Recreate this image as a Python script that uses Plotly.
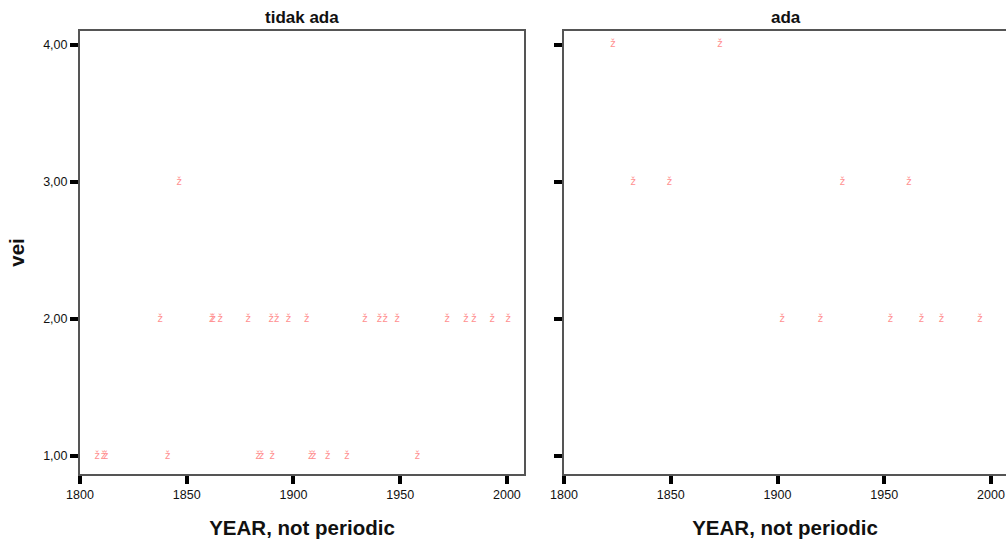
import plotly.graph_objects as go

# ---- data ----
panel_titles = ["tidak ada", "ada"]

tidak_year = [1808, 1811, 1812, 1841, 1883.5, 1885, 1890, 1908, 1909.5, 1916, 1925, 1958,
              1837.5, 1861.7, 1862.4, 1865.6, 1878.8, 1889.5, 1892.1, 1897.6, 1906.2,
              1933.5, 1940.2, 1942.9, 1948.6, 1972, 1980.8, 1984.5, 1993.1, 2000.6,
              1846.4]
tidak_vei = [1, 1, 1, 1, 1, 1, 1, 1, 1, 1, 1, 1,
             2, 2, 2, 2, 2, 2, 2, 2, 2,
             2, 2, 2, 2, 2, 2, 2, 2, 2,
             3]

ada_year = [1822.9, 1873, 1832.4, 1849.4, 1930.4, 1961.5,
            1902.2, 1920.1, 1952.9, 1967.4, 1976.7, 1994.8]
ada_vei = [4, 4, 3, 3, 3, 3,
           2, 2, 2, 2, 2, 2]

x_ticks = [1800, 1850, 1900, 1950, 2000]
y_ticks = [1, 2, 3, 4]
y_ticktext = ["1,00", "2,00", "3,00", "4,00"]

W, H = 1006, 544
fig = go.Figure()

glyph = "ž"
mcolor = "#ff9090"

fig.add_trace(go.Scatter(x=tidak_year, y=tidak_vei, mode="text", text=[glyph] * len(tidak_year),
                         textfont=dict(size=10, color=mcolor, family="DejaVu Sans"),
                         textposition="middle center", xaxis="x", yaxis="y",
                         showlegend=False, hoverinfo="x+y"))
fig.add_trace(go.Scatter(x=ada_year, y=ada_vei, mode="text", text=[glyph] * len(ada_year),
                         textfont=dict(size=10, color=mcolor, family="DejaVu Sans"),
                         textposition="middle center", xaxis="x2", yaxis="y2",
                         showlegend=False, hoverinfo="x+y"))

tickfont = dict(family="Liberation Sans, Arial", size=12.5, color="#111")
titlefont = dict(family="Liberation Sans, Arial", size=20.5, color="#111")

common_x = dict(range=[1800, 2008], tickvals=x_ticks, ticks="outside", ticklen=8, tickwidth=4,
                tickcolor="black", showline=True, linecolor="#555", linewidth=2, mirror=True,
                showgrid=False, zeroline=False, tickfont=tickfont, automargin=False,
                ticklabeloverflow="allow",
                title=dict(text="<b>YEAR, not periodic</b>", font=titlefont, standoff=20))
common_y = dict(range=[0.869, 4.102], tickvals=y_ticks, ticks="outside", ticklen=8, tickwidth=4,
                tickcolor="black", showline=True, linecolor="#555", linewidth=2,
                showgrid=False, zeroline=False, tickfont=tickfont, automargin=False)

l1, r1 = 80 / W, 524 / W
l2 = 564 / W
fig.update_layout(
    width=W, height=H,
    margin=dict(l=0, r=0, t=31, b=70),
    paper_bgcolor="white", plot_bgcolor="white",
    xaxis=dict(domain=[l1, r1], anchor="y", **common_x),
    xaxis2=dict(domain=[l2, 1.0], anchor="y2", **{**common_x, "range": [1800, 1800 + (W - 564) / 2.135]}),
    yaxis=dict(domain=[0, 1], anchor="x", mirror=True, ticktext=y_ticktext,
               title=dict(text="<b>vei</b>", font=titlefont, standoff=13), **common_y),
    yaxis2=dict(domain=[0, 1], anchor="x2", mirror=False, showticklabels=False, **common_y),
    annotations=[
        dict(text="<b>tidak ada</b>", x=(l1 + r1) / 2, y=1.0, xref="paper", yref="paper",
             xanchor="center", yanchor="bottom", yshift=2, showarrow=False,
             font=dict(family="Liberation Sans, Arial", size=17, color="#111")),
        dict(text="<b>ada</b>", x=(564 + 1008) / 2 / W, y=1.0, xref="paper", yref="paper",
             xanchor="center", yanchor="bottom", yshift=2, showarrow=False,
             font=dict(family="Liberation Sans, Arial", size=17, color="#111")),
    ],
)

fig.write_html(
    "out.html",
    config={"displayModeBar": False},
    post_script="document.body.style.margin='0';document.documentElement.style.overflow='hidden';",
)
